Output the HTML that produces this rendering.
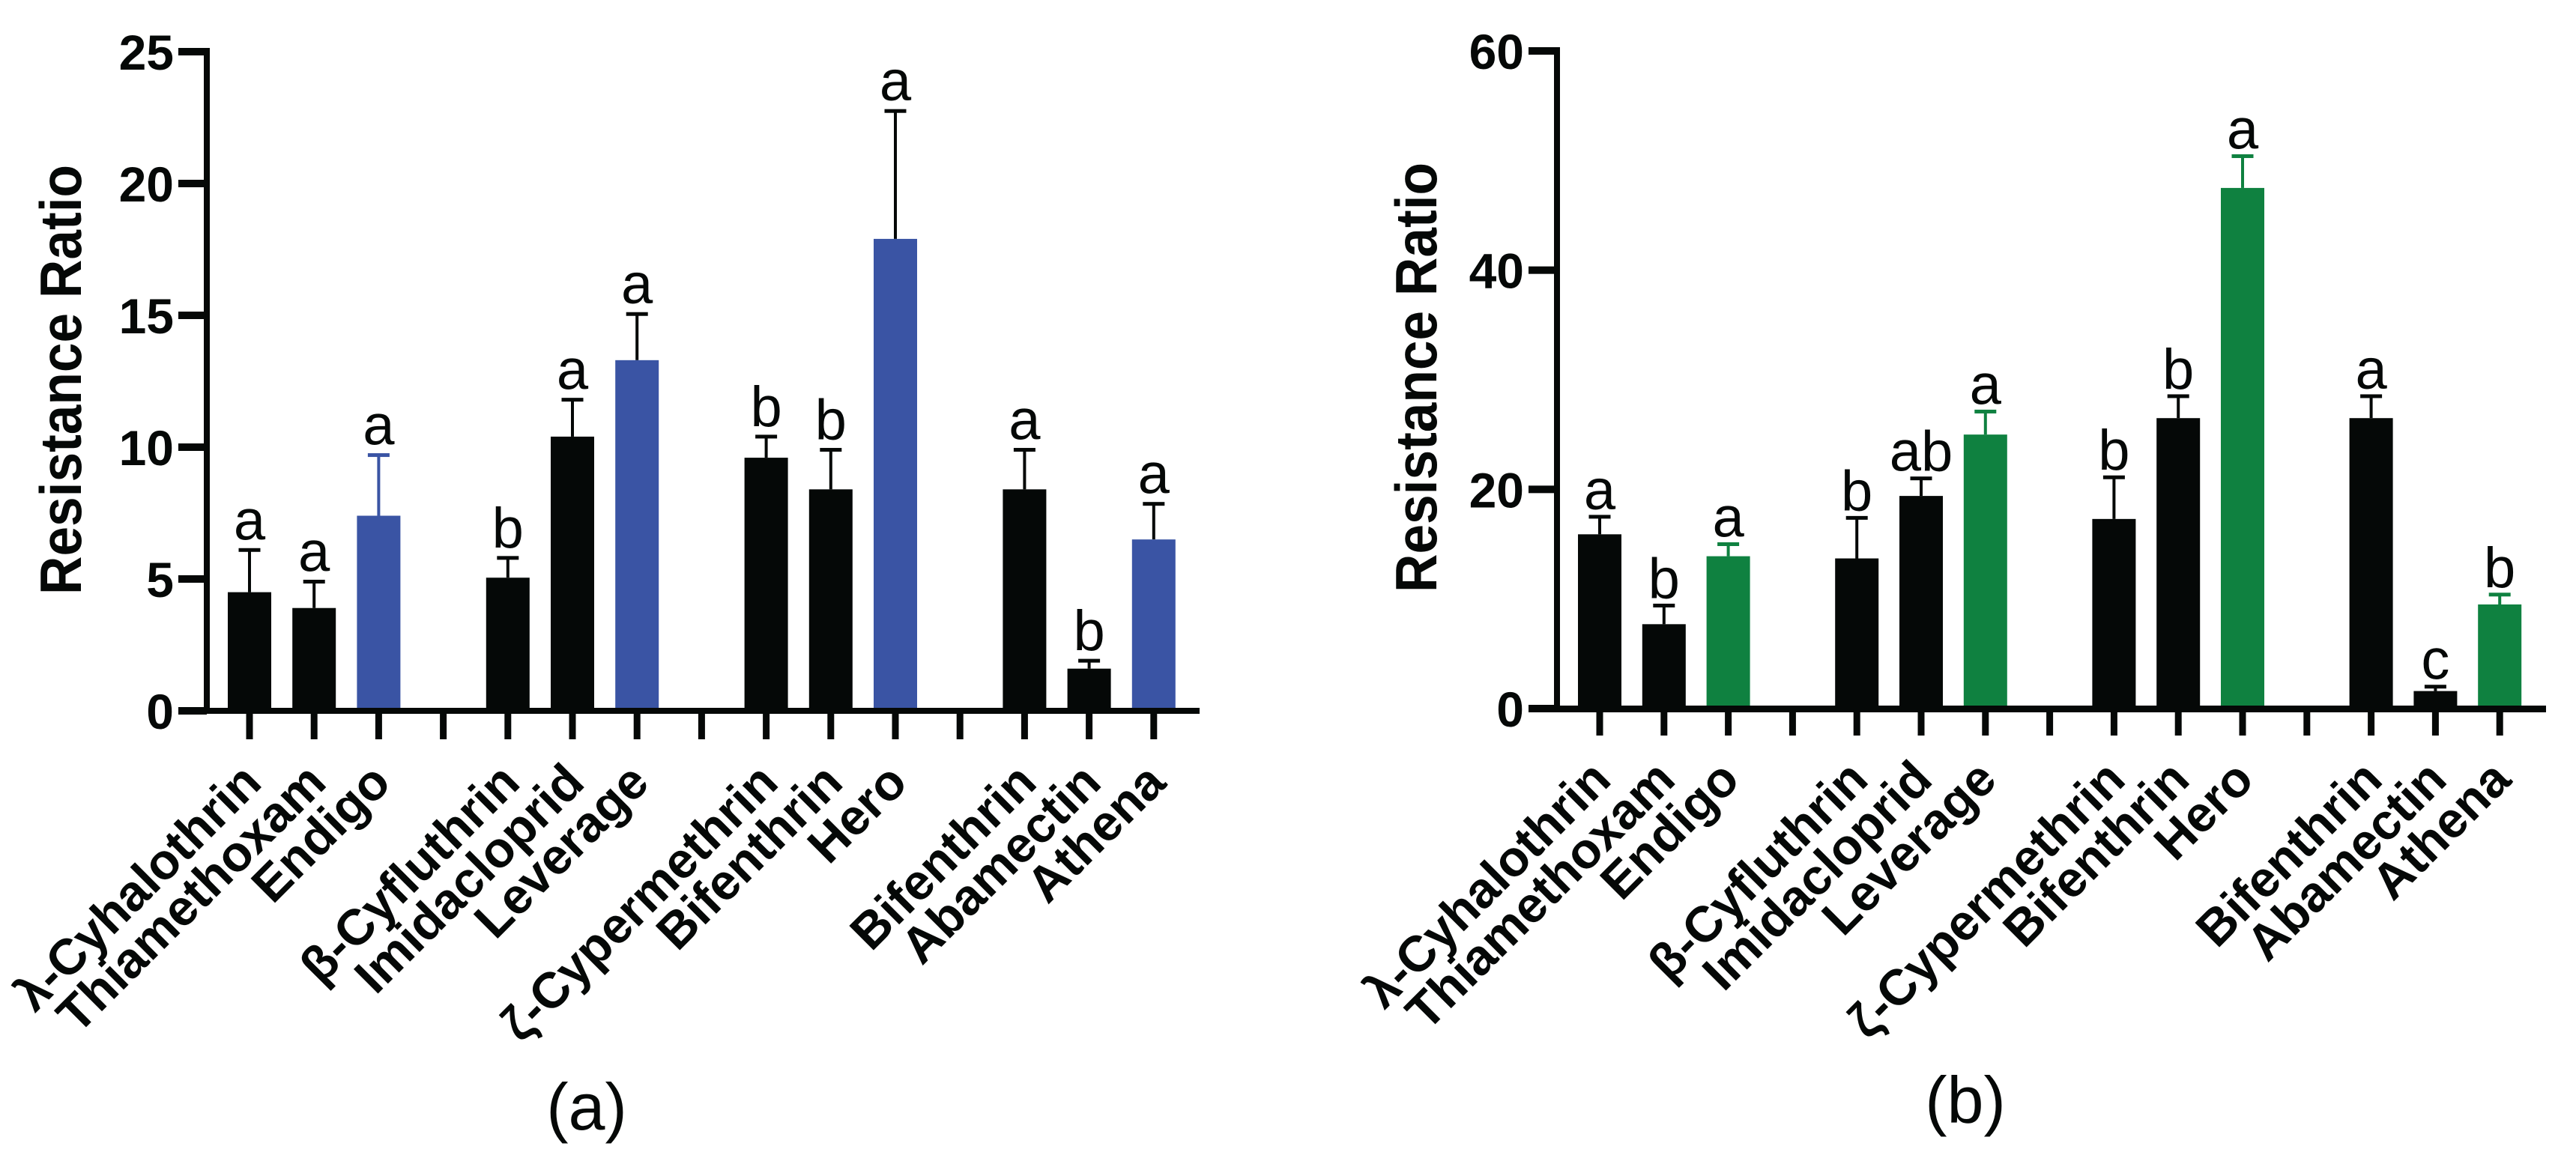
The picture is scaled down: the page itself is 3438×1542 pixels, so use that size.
<!DOCTYPE html>
<html lang="en">
<head>
<meta charset="utf-8">
<title>Resistance Ratio charts</title>
<style>
html,body{margin:0;padding:0;background:#fff;}
svg{display:block;}
text{font-family:"Liberation Sans",Arial,sans-serif;fill:#050807;}
</style>
</head>
<body>
<svg id="figure" xmlns="http://www.w3.org/2000/svg" width="3438" height="1542" viewBox="0 0 3438 1542"></svg>
<script>
const categories = ["λ-Cyhalothrin","Thiamethoxam","Endigo","β-Cyfluthrin","Imidacloprid","Leverage","ζ-Cypermethrin","Bifenthrin","Hero","Bifenthrin","Abamectin","Athena"];
const yTicksA = [0,5,10,15,20,25];
const valuesA = [4.5,3.9,7.4,5.05,10.4,13.3,9.6,8.4,17.9,8.4,1.6,6.5];
const errorTopsA = [6.1,4.9,9.7,5.8,11.8,15.05,10.4,9.9,22.75,9.9,1.9,7.85];
const lettersA = ["a","a","a","b","a","a","b","b","a","a","b","a"];
const errorTintedA = [false,false,true,false,false,false,false,false,false,false,false,false];
const yTicksB = [0,20,40,60];
const valuesB = [15.9,7.7,13.9,13.7,19.4,25,17.3,26.5,47.5,26.5,1.6,9.5];
const errorTopsB = [17.5,9.4,15,17.4,21,27.1,21.1,28.5,50.4,28.5,2,10.4];
const lettersB = ["a","b","a","b","ab","a","b","b","a","a","c","b"];
const errorTintedB = [false,false,true,false,false,true,false,false,true,false,false,true];

const NS = "http://www.w3.org/2000/svg";
const BLACK = "#050807";
const root = document.getElementById("figure");

function make(parent, tag, attrs, content) {
  const el = document.createElementNS(NS, tag);
  for (const k in attrs) el.setAttribute(k, attrs[k]);
  if (content !== undefined) el.textContent = content;
  parent.appendChild(el);
  return el;
}

function drawPanel(cfg, yTicks, values, errorTops, letters, errorTinted) {
  const g = make(root, "g", {});
  
  

  const yMax = yTicks[yTicks.length - 1];
  const yScale = v => cfg.y0 - (v / yMax) * (cfg.y0 - cfg.yTop);
  const slotOf = i => i + Math.floor(i / 3);
  const xScale = slot => cfg.x0 + slot * cfg.step;

  // bars, error bars, significance letters
  values.forEach((v, i) => {
    const cx = xScale(slotOf(i));
    const colored = i % 3 === 2;
    const fill = colored ? cfg.color : BLACK;
    const errColor = errorTinted[i] ? cfg.color : BLACK;
    const top = yScale(v);
    const errY = yScale(errorTops[i]);

    const stem = make(g, "rect", {x: cx - 2, y: errY, width: 4, height: top - errY, fill: errColor});
    
    

    const cap = make(g, "rect", {x: cx - 14.5, y: errY - 2.5, width: 29, height: 5, fill: errColor});
    
    

    const bar = make(g, "rect", {x: cx - 29, y: top, width: 58, height: cfg.y0 - top, fill: fill});
    
    

    const letter = make(g, "text", {x: cx, y: errY - cfg.letterGap, "text-anchor": "middle", "font-size": 76}, letters[i]);
    
    
  });

  // y axis
  const yAxis = make(g, "rect", {x: cfg.axisX - 4, y: cfg.yTop - 5, width: 8, height: cfg.y0 - cfg.yTop + 9, fill: BLACK});
  
  

  yTicks.forEach(t => {
    const y = yScale(t);
    const tick = make(g, "rect", {x: cfg.axisX - 38, y: y - 5, width: 38, height: 10, fill: BLACK});
    
    

    const label = make(g, "text", {x: cfg.axisX - 44, y: y + 24, "text-anchor": "end", "font-size": 66, "font-weight": "bold"}, String(t));
    
    
  });

  // x axis
  const xAxis = make(g, "rect", {x: cfg.axisX - 37, y: cfg.y0 - 4, width: cfg.xEnd - cfg.axisX + 37, height: cfg.axisH, fill: BLACK});
  
  

  const slotCount = slotOf(values.length - 1) + 1;
  for (let s = 0; s < slotCount; s++) {
    const xt = make(g, "rect", {x: xScale(s) - 4.5, y: cfg.y0, width: 9, height: cfg.tickEnd - cfg.y0, fill: BLACK});
    
    
  }

  // x labels
  categories.forEach((c, i) => {
    const ax = xScale(slotOf(i)) + cfg.labelDx;
    const label = make(g, "text", {
      transform: "translate(" + ax + " " + cfg.labelY + ") rotate(-45)",
      "text-anchor": "end", "font-size": 67, "font-weight": "bold"
    }, c);
    
    
  });

  // y title
  const title = make(g, "text", {
    transform: "translate(" + cfg.titleX + " " + cfg.titleY + ") rotate(-90)",
    "font-size": 78, "font-weight": "bold",
    textLength: 574, lengthAdjust: "spacingAndGlyphs"
  }, "Resistance Ratio");
  
  

  // panel caption
  const caption = make(g, "text", {x: cfg.capX, y: cfg.capY, "text-anchor": "middle", "font-size": 88}, cfg.caption);
  
  
}

drawPanel({
  name: "chart-panel-a", color: "#3a54a4", caption: "(a)", letterGap: 14,
  x0: 333, step: 86.2, axisX: 276, xEnd: 1601, y0: 949, yTop: 69, axisH: 8, tickEnd: 987,
  labelDx: 19, labelY: 1048, titleX: 108, titleY: 794, capX: 783, capY: 1508
}, yTicksA, valuesA, errorTopsA, lettersA, errorTintedA);

drawPanel({
  name: "chart-panel-b", color: "#0f8140", caption: "(b)", letterGap: 10,
  x0: 2135, step: 85.8, axisX: 2078, xEnd: 3398, y0: 946, yTop: 68, axisH: 9, tickEnd: 982,
  labelDx: 18, labelY: 1044, titleX: 1917, titleY: 791, capX: 2623, capY: 1499
}, yTicksB, valuesB, errorTopsB, lettersB, errorTintedB);
</script>
</body>
</html>
